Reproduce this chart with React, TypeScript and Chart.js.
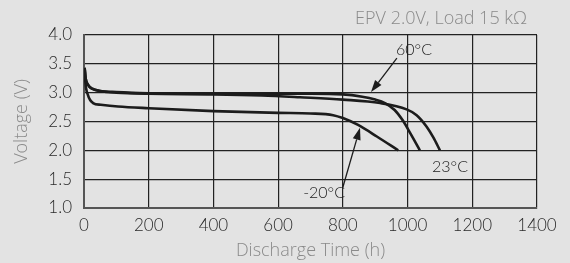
import React, { useEffect, useRef } from "react";
import { Chart, registerables } from "chart.js";

Chart.register(...registerables);

// Discharge curves (hours, volts)
const hours60 = [2, 5, 12, 25, 50, 100, 200, 400, 600, 700, 800, 860, 900, 930, 960, 985, 1010, 1038];
const volts60 = [3.43, 3.25, 3.14, 3.07, 3.03, 3.01, 2.99, 2.98, 2.98, 2.98, 2.97, 2.93, 2.88, 2.82, 2.7, 2.52, 2.28, 2.0];

const hours23 = [2, 5, 12, 25, 50, 100, 200, 400, 550, 667, 800, 915, 997, 1028, 1059, 1080, 1100];
const volts23 = [3.43, 3.25, 3.14, 3.07, 3.03, 3.0, 2.98, 2.97, 2.95, 2.92, 2.88, 2.82, 2.71, 2.61, 2.41, 2.22, 2.0];

const hoursM20 = [2, 4, 12, 28, 52, 105, 200, 400, 600, 700, 770, 800, 847, 905, 971];
const voltsM20 = [3.43, 3.2, 2.96, 2.82, 2.79, 2.76, 2.73, 2.68, 2.65, 2.64, 2.61, 2.56, 2.44, 2.24, 2.0];

const xTickValues = [0, 200, 400, 600, 800, 1000, 1200, 1400];
const yTickValues = [1.0, 1.5, 2.0, 2.5, 3.0, 3.5, 4.0];

const chartTitle = "EPV 2.0V, Load 15 kΩ";
const xTitle = "Discharge Time (h)";
const yTitle = "Voltage (V)";

const curveLabels = ["60°C", "23°C", "-20°C"];

const toPoints = (xs: number[], ys: number[]) => xs.map((x, i) => ({ x, y: ys[i] }));

const FONT = "Lato, 'Open Sans', sans-serif";
const TFONT = "'Open Sans', Lato, sans-serif";
const BG = "#e3e3e3";
const INK = "#1c1c1c";
const GRAY = "#8a8a8a";

// annotation positions in data units
const annotations = [
  { text: curveLabels[0], t: 1020, v: 3.74, arrow: { from: [967, 3.6], to: [887, 3.01] } },
  { text: curveLabels[1], t: 1131, v: 1.71, arrow: null },
  { text: curveLabels[2], t: 742, v: 1.26, arrow: { from: [800, 1.36], to: [853, 2.39] } },
];

const annotationPlugin = {
  id: "annot",
  beforeDraw(chart: any) {
    const { ctx, width, height } = chart;
    ctx.save();
    ctx.fillStyle = BG;
    ctx.fillRect(0, 0, width, height);
    ctx.restore();
  },
  afterDatasetsDraw(chart: any) {
    const { ctx } = chart;
    const xs = chart.scales.x;
    const ys = chart.scales.y;
    ctx.save();
    ctx.fillStyle = INK;
    ctx.strokeStyle = INK;
    ctx.font = `300 16px ${FONT}`;
    ctx.textAlign = "center";
    ctx.textBaseline = "middle";
    for (const a of annotations) {
      ctx.fillText(a.text, xs.getPixelForValue(a.t), ys.getPixelForValue(a.v));
      if (a.arrow) {
        const x0 = xs.getPixelForValue(a.arrow.from[0]);
        const y0 = ys.getPixelForValue(a.arrow.from[1]);
        const x1 = xs.getPixelForValue(a.arrow.to[0]);
        const y1 = ys.getPixelForValue(a.arrow.to[1]);
        const ang = Math.atan2(y1 - y0, x1 - x0);
        const hl = 12;
        const hw = 4;
        const bx = x1 - hl * Math.cos(ang);
        const by = y1 - hl * Math.sin(ang);
        ctx.lineWidth = 1.3;
        ctx.beginPath();
        ctx.moveTo(x0, y0);
        ctx.lineTo(bx, by);
        ctx.stroke();
        ctx.beginPath();
        ctx.moveTo(x1, y1);
        ctx.lineTo(bx + hw * Math.sin(ang), by - hw * Math.cos(ang));
        ctx.lineTo(bx - hw * Math.sin(ang), by + hw * Math.cos(ang));
        ctx.closePath();
        ctx.fill();
      }
    }
    // chart title (top right)
    ctx.fillStyle = GRAY;
    ctx.font = `300 18px ${TFONT}`;
    ctx.textAlign = "right";
    ctx.fillText(chartTitle, chart.chartArea.right - 10, 19);
    ctx.restore();
  },
};

export default function App() {
  const ref = useRef<HTMLCanvasElement | null>(null);
  useEffect(() => {
    if (!ref.current) return;
    const lineStyle = {
      borderColor: INK,
      borderWidth: 2.6,
      pointRadius: 0,
      fill: false,
      cubicInterpolationMode: "monotone" as const,
    };
    const chart = new Chart(ref.current, {
      type: "line",
      data: {
        datasets: [
          { label: curveLabels[0], data: toPoints(hours60, volts60), ...lineStyle },
          { label: curveLabels[1], data: toPoints(hours23, volts23), ...lineStyle },
          { label: curveLabels[2], data: toPoints(hoursM20, voltsM20), ...lineStyle },
        ],
      },
      options: {
        animation: false,
        responsive: true,
        maintainAspectRatio: false,
        layout: { padding: { left: 0, right: 33, top: 35, bottom: 0 } },
        plugins: { legend: { display: false }, tooltip: { enabled: false } },
        scales: {
          x: {
            type: "linear",
            min: 0,
            max: 1400,
            afterBuildTicks: (s: any) => {
              s.ticks = xTickValues.map((v) => ({ value: v }));
            },
            afterFit: (s: any) => {
              s.height = 55;
            },
            ticks: {
              color: "#2a2a2a",
              font: { family: FONT, size: 17, weight: 300 },
              padding: 7,
              maxRotation: 0,
              callback: (v: any) => String(v),
            },
            grid: { color: "#222", lineWidth: 1.2, drawTicks: false },
            border: { color: "#555", width: 2 },
            title: {
              display: true,
              text: xTitle,
              color: GRAY,
              font: { family: TFONT, size: 18, weight: 300 },
              padding: { top: 0, bottom: 1 },
            },
          },
          y: {
            type: "linear",
            min: 1,
            max: 4,
            afterBuildTicks: (s: any) => {
              s.ticks = yTickValues.map((v) => ({ value: v }));
            },
            afterFit: (s: any) => {
              s.width = 84;
            },
            ticks: {
              color: "#2a2a2a",
              font: { family: FONT, size: 17, weight: 300 },
              padding: 12,
              callback: (v: any) => Number(v).toFixed(1),
            },
            grid: { color: "#222", lineWidth: 1.2, drawTicks: false },
            border: { color: "#555", width: 2 },
            title: {
              display: true,
              text: yTitle,
              color: GRAY,
              font: { family: TFONT, size: 18, weight: 300 },
              padding: { top: 11, bottom: 0 },
            },
          },
        },
      },
      plugins: [annotationPlugin],
    });
    return () => chart.destroy();
  }, []);
  return (
    <div style={{ position: "fixed", left: 0, top: 0, width: 570, height: 263, background: BG }}>
      <canvas ref={ref} />
    </div>
  );
}
